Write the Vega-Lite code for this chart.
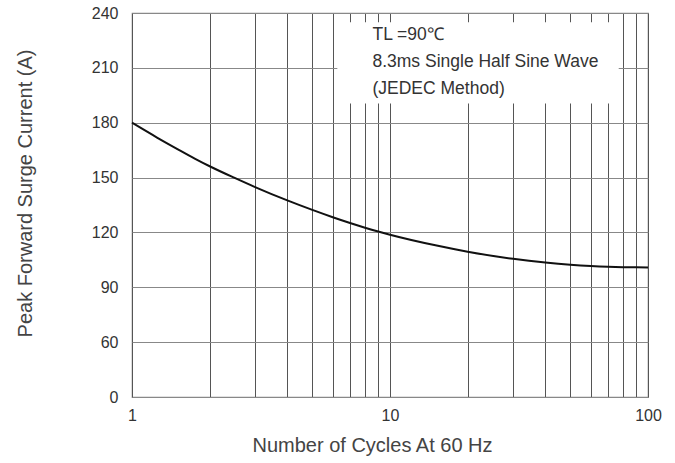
{
  "$schema": "https://vega.github.io/schema/vega-lite/v6.json",
  "width": 516,
  "height": 384,
  "autosize": {"type": "none"},
  "padding": {"left": 132, "top": 13, "right": 27, "bottom": 66},
  "background": "white",
  "config": {
    "font": "Liberation Sans",
    "view": {"stroke": "#888", "strokeWidth": 1.2},
    "axis": {"labelFont": "Liberation Sans", "titleFont": "Liberation Sans", "labelFontSize": 16, "titleFontSize": 20, "titleFontWeight": "normal", "labelColor": "#333", "titleColor": "#444", "ticks": false, "domain": false}
  },
  "layer": [
    {
      "data": {
        "values": [
          {"cycles": 1, "current": 180},
          {"cycles": 1.25, "current": 171.9},
          {"cycles": 1.5, "current": 165.6},
          {"cycles": 1.75, "current": 160.4},
          {"cycles": 2, "current": 156.2},
          {"cycles": 2.5, "current": 149.8},
          {"cycles": 3, "current": 144.8},
          {"cycles": 4, "current": 137.5},
          {"cycles": 5, "current": 132.3},
          {"cycles": 6, "current": 128.3},
          {"cycles": 7, "current": 125.15},
          {"cycles": 8, "current": 122.6},
          {"cycles": 9, "current": 120.5},
          {"cycles": 10, "current": 118.75},
          {"cycles": 15, "current": 112.95},
          {"cycles": 20, "current": 109.45},
          {"cycles": 30, "current": 105.55},
          {"cycles": 40, "current": 103.5},
          {"cycles": 50, "current": 102.3},
          {"cycles": 60, "current": 101.6},
          {"cycles": 70, "current": 101.2},
          {"cycles": 80, "current": 101.0},
          {"cycles": 90, "current": 100.9},
          {"cycles": 100, "current": 100.85}
        ]
      },
      "mark": {"type": "line", "color": "#111", "strokeWidth": 2, "interpolate": "monotone"},
      "encoding": {
        "x": {
          "field": "cycles", "type": "quantitative",
          "scale": {"type": "log", "domain": [1, 100], "nice": false},
          "axis": {
            "title": "Number of Cycles At 60 Hz",
            "values": [1, 2, 3, 4, 5, 6, 7, 8, 9, 10, 20, 30, 40, 50, 60, 70, 80, 90, 100],
            "labelExpr": "datum.value == 1 || datum.value == 10 || datum.value == 100 ? datum.label : ''",
            "labelFlush": false,
            "labelPadding": 10,
            "titlePadding": 12,
            "titleX": 240,
            "grid": true,
            "gridColor": "#555",
            "gridWidth": 1,
            "gridOpacity": 1
          }
        },
        "y": {
          "field": "current", "type": "quantitative",
          "scale": {"domain": [0, 60, 240], "range": [384, 329.14, 0], "nice": false, "zero": false},
          "axis": {
            "title": "Peak Forward Surge Current (A)",
            "values": [0, 60, 90, 120, 150, 180, 210, 240],
            "labelPadding": 14,
            "titlePadding": 56,
            "titleY": 180,
            "grid": true,
            "gridColor": "#888",
            "gridWidth": 1.2,
            "gridOpacity": 1
          }
        }
      }
    },
    {
      "data": {"values": [{}]},
      "mark": {"type": "rect", "fill": "white", "stroke": null},
      "encoding": {
        "x": {"datum": 6.25, "type": "quantitative"},
        "x2": {"datum": 77},
        "y": {"datum": 235, "type": "quantitative"},
        "y2": {"datum": 190.5}
      }
    },
    {
      "data": {"values": [{}]},
      "mark": {"type": "text", "align": "left", "baseline": "alphabetic", "fontSize": 17.5, "fill": "#333", "stroke": null, "lineHeight": 27, "font": "Liberation Sans",
        "text": ["TL =90℃", "8.3ms Single Half Sine Wave", "(JEDEC Method)"]},
      "encoding": {
        "x": {"datum": 8.55, "type": "quantitative"},
        "y": {"datum": 225, "type": "quantitative"}
      }
    }
  ]
}
